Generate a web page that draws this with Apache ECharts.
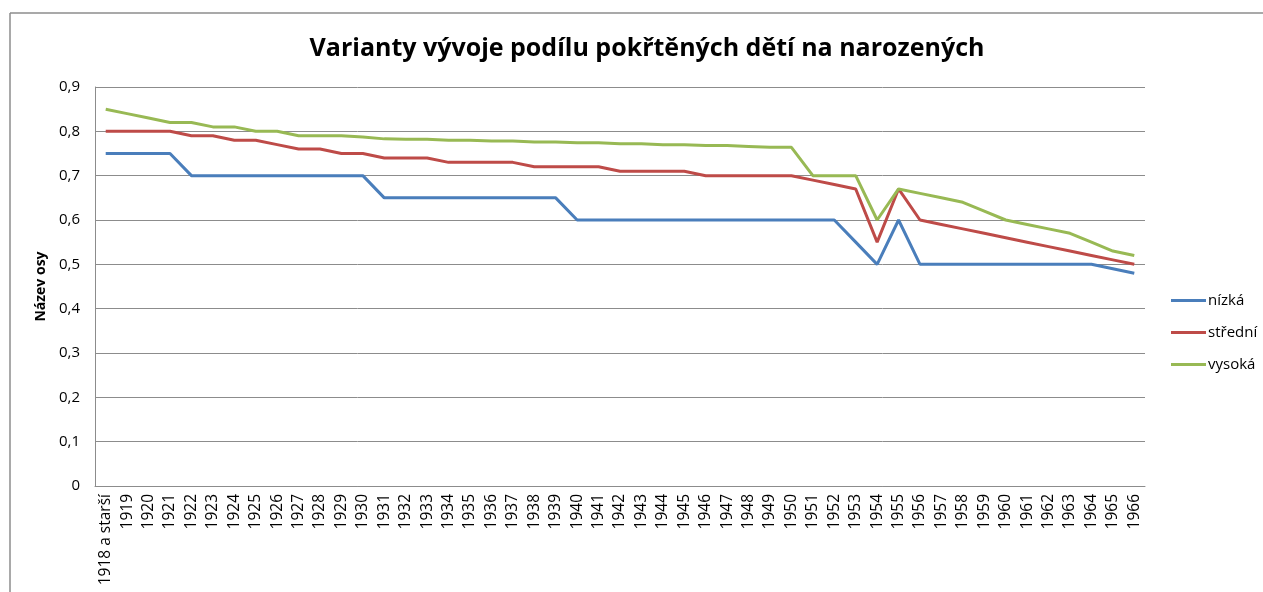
<!DOCTYPE html>
<html>
<head>
<meta charset="utf-8">
<script src="https://cdn.jsdelivr.net/npm/echarts@6/dist/echarts.min.js"></script>
<style>
html,body{margin:0;padding:0;background:#fff;overflow:hidden;}
#chart{width:1263px;height:592px;}
</style>
</head>
<body>
<div id="chart"></div>
<script>
const categories = ["1918 a starší","1919","1920","1921","1922","1923","1924","1925","1926","1927","1928","1929","1930","1931","1932","1933","1934","1935","1936","1937","1938","1939","1940","1941","1942","1943","1944","1945","1946","1947","1948","1949","1950","1951","1952","1953","1954","1955","1956","1957","1958","1959","1960","1961","1962","1963","1964","1965","1966"];

const nizka = [0.75,0.75,0.75,0.75,0.70,0.70,0.70,0.70,0.70,0.70,0.70,0.70,0.70,0.65,0.65,0.65,0.65,0.65,0.65,0.65,0.65,0.65,0.60,0.60,0.60,0.60,0.60,0.60,0.60,0.60,0.60,0.60,0.60,0.60,0.60,0.55,0.50,0.60,0.50,0.50,0.50,0.50,0.50,0.50,0.50,0.50,0.50,0.49,0.48];

const stredni = [0.80,0.80,0.80,0.80,0.79,0.79,0.78,0.78,0.77,0.76,0.76,0.75,0.75,0.74,0.74,0.74,0.73,0.73,0.73,0.73,0.72,0.72,0.72,0.72,0.71,0.71,0.71,0.71,0.70,0.70,0.70,0.70,0.70,0.69,0.68,0.67,0.55,0.67,0.60,0.59,0.58,0.57,0.56,0.55,0.54,0.53,0.52,0.51,0.50];

const vysoka = [0.85,0.84,0.83,0.82,0.82,0.81,0.81,0.80,0.80,0.79,0.79,0.79,0.787,0.783,0.782,0.782,0.780,0.780,0.778,0.778,0.776,0.776,0.774,0.774,0.772,0.772,0.770,0.770,0.768,0.768,0.766,0.764,0.764,0.70,0.70,0.70,0.60,0.67,0.66,0.65,0.64,0.62,0.60,0.59,0.58,0.57,0.55,0.53,0.52];

const yTicks = [0,0.1,0.2,0.3,0.4,0.5,0.6,0.7,0.8,0.9];

const FONT = "'Open Sans','Liberation Sans',sans-serif";
const chart = echarts.init(document.getElementById('chart'));
chart.setOption({
  animation:false,
  backgroundColor:'#fff',
  graphic:[
    {type:'line',shape:{x1:10,y1:13,x2:1263,y2:13},style:{stroke:'#8c8c8c',lineWidth:1.5},z:-1},
    {type:'line',shape:{x1:10,y1:13,x2:10,y2:592},style:{stroke:'#8c8c8c',lineWidth:1.5},z:-1}
  ],
  title:{text:'Varianty vývoje podílu pokřtěných dětí na narozených',left:642,top:31,textAlign:'center',
    textStyle:{fontFamily:FONT,fontSize:25,fontWeight:'bold',color:'#000'}},
  grid:{left:95,right:118,top:87,bottom:106,containLabel:false},
  legend:{orient:'vertical',left:1166,top:288,itemWidth:35,itemHeight:3,itemGap:17,icon:'rect',
    textStyle:{fontFamily:FONT,fontSize:15,color:'#000',padding:[0,0,0,-3]},
    data:['nízká','střední','vysoká']},
  xAxis:{type:'category',data:categories,boundaryGap:true,
    axisLine:{lineStyle:{color:'#8c8c8c',width:1}},
    axisTick:{show:false},
    axisLabel:{rotate:90,interval:0,fontFamily:FONT,fontSize:15.5,color:'#000',margin:8}},
  yAxis:{type:'value',min:0,max:0.9,interval:0.1,name:'Název osy',nameLocation:'middle',nameGap:45,
    nameTextStyle:{fontFamily:FONT,fontSize:14,fontWeight:'bold',color:'#000'},
    axisLine:{show:true,lineStyle:{color:'#8c8c8c',width:1}},
    axisTick:{show:false},
    splitLine:{lineStyle:{color:'#8c8c8c',width:1}},
    axisLabel:{fontFamily:FONT,fontSize:15,color:'#000',margin:15,
      formatter:function(v){const t=yTicks.find(x=>Math.abs(x-v)<1e-9);return String(Math.round((t!==undefined?t:v)*10)/10).replace('.',',');}}},
  series:[
    {name:'nízká',type:'line',data:nizka,symbol:'none',lineStyle:{color:'#4a7ebb',width:3},itemStyle:{color:'#4a7ebb'}},
    {name:'střední',type:'line',data:stredni,symbol:'none',lineStyle:{color:'#be4b48',width:3},itemStyle:{color:'#be4b48'}},
    {name:'vysoká',type:'line',data:vysoka,symbol:'none',lineStyle:{color:'#98b954',width:3},itemStyle:{color:'#98b954'}}
  ]
});
</script>
</body>
</html>
